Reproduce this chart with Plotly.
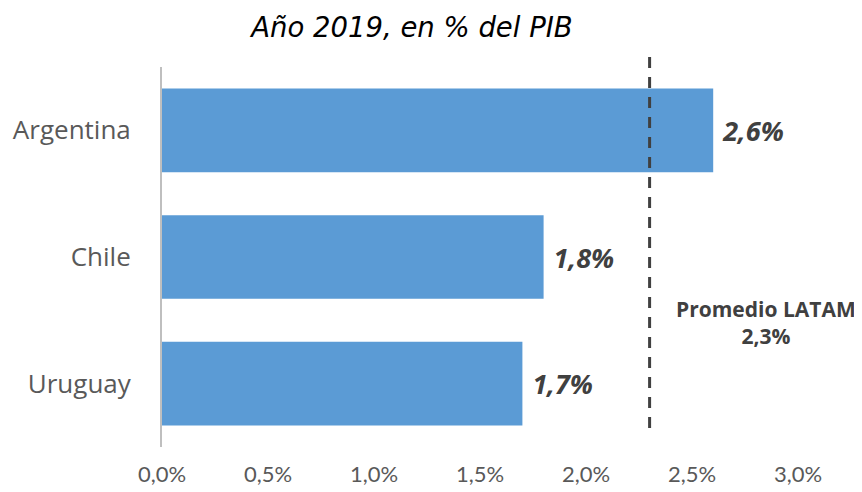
import plotly.graph_objects as go

paises = ["Argentina", "Chile", "Uruguay"]
valores = [2.6, 1.8, 1.7]
etiquetas = ["2,6%", "1,8%", "1,7%"]
promedio_latam = 2.3
promedio_texto = "Promedio LATAM<br>2,3%"
tick_vals = [0, 0.5, 1.0, 1.5, 2.0, 2.5, 3.0]
tick_text = ["0,0%", "0,5%", "1,0%", "1,5%", "2,0%", "2,5%", "3,0%"]
titulo = "Año 2019, en % del PIB"

fig = go.Figure()
fig.add_trace(go.Bar(
    y=paises, x=valores, orientation="h",
    marker=dict(color="#5B9BD5", line=dict(width=0)),
    text=etiquetas, textposition="outside", cliponaxis=False,
    texttemplate=" <b><i>%{text}</i></b>",
    textfont=dict(family="Open Sans", size=27, color="#404040"),
    width=0.66,
))

fig.add_shape(type="line", xref="x", yref="paper",
              x0=promedio_latam, x1=promedio_latam, y0=0.05, y1=1.034,
              line=dict(color="#404040", width=3, dash="11px,9px"))

fig.add_annotation(xref="x", yref="paper", x=2.847, y=0.25,
                   text="<b>" + promedio_texto + "</b>", showarrow=False,
                   font=dict(family="Open Sans", size=21, color="#404040"),
                   align="center")

fig.update_layout(
    width=854, height=484,
    margin=dict(l=154, r=64, t=59, b=45, autoexpand=False),
    plot_bgcolor="white", paper_bgcolor="white",
    showlegend=False,
    title=dict(text="<i>" + titulo + "</i>", x=0.473, xanchor="center",
               y=0.959, yanchor="middle", automargin=False,
               font=dict(family="DejaVu Sans", size=27.5, color="#000000")),
    xaxis=dict(range=[0, 3.0], tickvals=tick_vals, ticktext=tick_text,
               showgrid=False, zeroline=False, showline=False, automargin=False,
               tickfont=dict(family="Lato", size=22, color="#595959"),
               ticks="", ticklen=0, ticklabelstandoff=12),
    yaxis=dict(categoryorder="array", categoryarray=paises, autorange="reversed",
               showgrid=False, zeroline=False, showline=True, automargin=False,
               linecolor="#BFBFBF", linewidth=2, ticks="",
               tickfont=dict(family="Open Sans", size=26, color="#595959"),
               ticklabelstandoff=24),
)

fig.write_html("out.html")
